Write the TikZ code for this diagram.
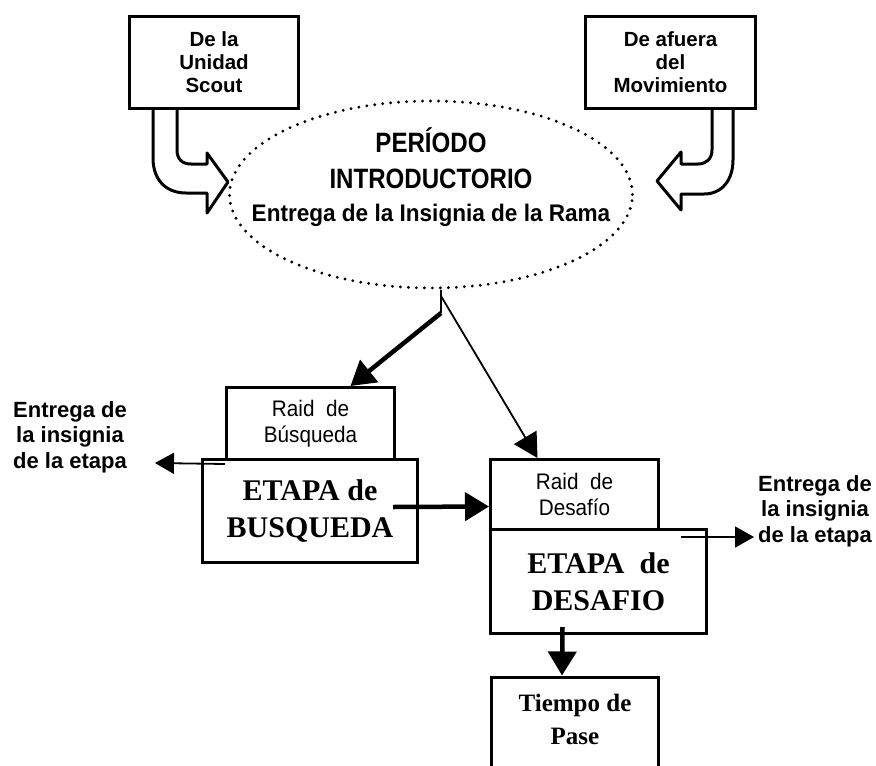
\documentclass[tikz,border=0pt]{standalone}
\usepackage{fontspec}
\setmainfont{Liberation Serif}
\newfontfamily\arialfont{Liberation Sans}
\newfontfamily\narrowfont{Liberation Sans}[FakeStretch=0.92]
\newfontfamily\titlefont{Liberation Sans}[FakeStretch=0.86]
\newfontfamily\ramafont{Liberation Sans}[FakeStretch=0.94]

\usetikzlibrary{shapes.geometric, arrows.meta, positioning, calc}

\newcommand{\rama}{\ramafont\bfseries\fontsize{24}{26}\selectfont}

\begin{document}
\begin{tikzpicture}[x=1pt, y=-1pt]
\tikzstyle{origen} = [rectangle, draw, line width=3pt, minimum width=169pt, minimum height=92pt, align=center, font=\arialfont\bfseries\fontsize{20.5}{23}\selectfont]
\tikzstyle{raid} = [rectangle, draw, line width=3pt, minimum width=168pt, minimum height=70pt, align=center, font=\narrowfont\fontsize{22.5}{26}\selectfont]
\tikzstyle{etapa} = [rectangle, draw, line width=3pt, minimum width=215pt, minimum height=103pt, align=center, font=\bfseries\fontsize{30}{37}\selectfont]
\tikzstyle{entrega} = [align=center, font=\arialfont\bfseries\fontsize{22}{25.5}\selectfont]
\tikzstyle{nube} = [ellipse, draw, line width=3.2pt, dash pattern=on 0pt off 8pt, line cap=round, minimum width=403pt, minimum height=187pt, inner sep=0pt]
\tikzstyle{hueca} = [line width=3pt, line join=round]
\tikzstyle{linea} = [line width=1.8pt]
\tikzstyle{flechafina} = [line width=1.8pt, -{Triangle[length=24pt, width=26pt]}]
\tikzstyle{flechaplana} = [line width=1.8pt, -{Triangle[length=19pt, width=21pt]}]
\tikzstyle{flechagruesa} = [line width=4.5pt, -{Triangle[length=24pt, width=28pt]}]

\useasboundingbox (0,0) rectangle (876,766);

% origen de los chicos
\node (unidad) [origen] at (214,62.5) {De la\\Unidad\\Scout};
\node (afuera) [origen, minimum width=170pt] at (670.5,62.5) {De afuera\\del\\Movimiento};

% periodo introductorio
\node (periodo) [nube] at (431,194.5) {};
\node (periodotxt) [align=center, font=\titlefont\bfseries\fontsize{28}{36}\selectfont] at (431,177) {PERÍODO\\INTRODUCTORIO\\[-3pt]\rama Entrega de la Insignia de la Rama};

% flechas huecas
\draw [hueca] (153,110) -- (153,158) .. controls (153,180) and (166,193) .. (186,193) -- (207,193) -- (207,213) -- (228,182) -- (207,153) -- (207,164) -- (191,164) .. controls (182,164) and (177,159) .. (177,150) -- (177,110);
\draw [hueca] (712,110) -- (712,150) .. controls (712,159) and (706,164) .. (698,164) -- (681,164) -- (681,152) -- (657,181) -- (681,210) -- (681,194) -- (704,194) .. controls (722,194) and (733,180) .. (733,160) -- (733,110);

% etapas
\node (raidb) [raid, minimum height=72pt] at (310.5,423.5) {Raid\ \ de\\Búsqueda};
\node (etapab) [etapa] at (310,511) {ETAPA de\\BUSQUEDA};
\node (raidd) [raid] at (574.5,494.5) {Raid\ \ de\\Desafío};
\node (etapad) [etapa, minimum width=216pt, minimum height=104pt] at (598.5,581.5) {ETAPA\ \ de\\DESAFIO};
\node (tiempo) [etapa, minimum width=167pt, minimum height=120pt, anchor=north] at (575,675.5) {};
\node (tiempotxt) [align=center, font=\bfseries\fontsize{25}{33}\selectfont, below=15pt of tiempo.north] {Tiempo de\\Pase};

\node (entregal) [entrega] at (70,437) {Entrega de\\la insignia\\de la etapa};
\node (entregar) [entrega] at (815,511) {Entrega de\\la insignia\\de la etapa};

% conectores
\coordinate (split) at (441,290);
\coordinate (codo) at (441,313);
\coordinate (tipl) at (155,463);
\coordinate (tipr) at (754,537);

\draw [linea] (split) -- (codo);
\draw [flechagruesa] (codo) -- ($(raidb.north)+(40,0)$);
\draw [flechafina] ($(split)+(0,6)$) -- ($(raidd.north)+(-37,0)$);
\draw [flechaplana] ($(raidb.south west)+(0,3)$) -- (tipl);
\draw [flechagruesa] ($(etapab.east)+(-26,-4)$) -- ($(raidd.west)+(0,12)$);
\draw [flechaplana] ($(etapad.north east)+(-27,9)$) -- (tipr);
\draw [flechagruesa] ($(etapad.south)+(-36,-8)$) -- ($(tiempo.north)+(-13,0)$);

\end{tikzpicture}
\end{document}
